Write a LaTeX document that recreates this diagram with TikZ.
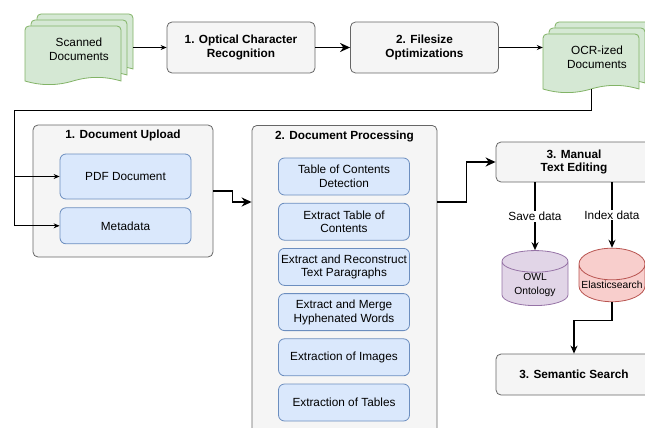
\documentclass[tikz,border=0pt]{standalone}
\usepackage{fontspec}
\setmainfont{Liberation Sans}
\usetikzlibrary{shapes.geometric, arrows.meta, positioning, calc}
\definecolor{boxgray}{HTML}{F5F5F5}
\definecolor{linegray}{HTML}{666666}
\definecolor{taskblue}{HTML}{DAE8FC}
\definecolor{taskline}{HTML}{6C8EBF}
\definecolor{docgreen}{HTML}{D5E8D4}
\definecolor{docline}{HTML}{82B366}
\definecolor{owlfill}{HTML}{E1D5E7}
\definecolor{owlline}{HTML}{9673A6}
\definecolor{esfill}{HTML}{F8CECC}
\definecolor{esline}{HTML}{B85450}

% stack of three document sheets: name, left, top, text
\newcommand{\docstack}[4]{%
  \foreach \d in {12,6,0}{%
    \filldraw[fill=docgreen, draw=docline, line width=0.8pt, shift={(#2+\d,#3+12-\d)}]
      (0,55) [rounded corners=4pt] -- (0,0) -- (96,0) [sharp corners] -- (96,55)
      .. controls (80,50.2) and (64,50.2) .. (48,55)
      .. controls (32,59.8) and (16,59.8) .. (0,55) -- cycle;
  }
  \coordinate (#1-foot) at (#2+48,#3+67);
  \node[inner sep=0pt, minimum width=108pt, minimum height=71pt] (#1) at (#2+54,#3+35.5) {#4};
}

\begin{document}
\begin{tikzpicture}[x=1pt, y=-1pt,
  every node/.style={font=\fontsize{11.8}{13.8}\selectfont, align=center},
  stepbox/.style={rectangle, rounded corners=5pt, draw=linegray, fill=boxgray, line width=0.8pt, minimum width=148pt, minimum height=51pt, font=\fontsize{11.8}{13.8}\selectfont\bfseries},
  groupbox/.style={rectangle, rounded corners=5pt, draw=linegray, fill=boxgray, line width=0.8pt},
  grouptitle/.style={inner sep=0pt, font=\fontsize{11.8}{13.8}\selectfont\bfseries},
  taskbox/.style={rectangle, rounded corners=6pt, draw=taskline, fill=taskblue, line width=0.8pt, minimum width=131pt, minimum height=37pt, inner sep=1pt},
  store/.style={cylinder, shape border rotate=90, aspect=0.5, line width=0.8pt, minimum width=66pt, minimum height=50pt, inner sep=1pt, font=\fontsize{10.3}{13.5}\selectfont},
  flow/.style={-{Stealth[length=6pt, width=5pt]}, line width=0.8pt},
  midflow/.style={-{Stealth[length=8pt, width=7pt]}, line width=1.2pt},
  bigflow/.style={-{Stealth[length=10pt, width=9pt]}, line width=1.8pt}
]
  \useasboundingbox (0,0) rectangle (645,428);
  \clip (0,0) rectangle (645,428);

  % Top row
  \docstack{scan}{25}{14}{Scanned\\Documents}
  \node[stepbox] (ocr) at (241,47.5) {1. Optical Character\\Recognition};
  \node[stepbox] (optim) at (424.5,47.5) {2. Filesize\\Optimizations};
  \docstack{ocrdocs}{543}{22}{OCR-ized\\Documents}

  % Upload
  \node[groupbox, minimum width=180pt, minimum height=132pt] (upload) at (123,191) {};
  \node[grouptitle] (uploadtitle) at ([yshift=-11pt]upload.north) {1. Document Upload};
  \node[taskbox, minimum height=45pt] (pdf) at (125.5,176.5) {PDF Document};
  \node[taskbox, minimum height=36pt, below=8pt of pdf] (meta) {Metadata};

  % Processing
  \node[groupbox, minimum width=185pt, minimum height=330pt, anchor=north] (proc) at (344.5,125) {};
  \node[grouptitle] (proctitle) at ([yshift=-11pt]proc.north) {2. Document Processing};
  \node[taskbox] (tocdetect) at (344,176.5) {Table of Contents\\Detection};
  \node[taskbox, below=7.4pt of tocdetect] (tocextract) {Extract Table of\\Contents};
  \node[taskbox, below=7.4pt of tocextract] (paragraphs) {Extract and Reconstruct\\Text Paragraphs};
  \node[taskbox, below=7.4pt of paragraphs] (hyphens) {Extract and Merge\\Hyphenated Words};
  \node[taskbox, below=7.4pt of hyphens] (images) {Extraction of Images};
  \node[taskbox, below=7.4pt of images] (tables) {Extraction of Tables};

  % Editing and search
  \node[stepbox, minimum width=156pt, minimum height=40pt] (manual) at (574,162) {3. Manual\\Text Editing};
  \node[store, fill=owlfill, draw=owlline] (owl) at (535,285) {OWL\\Ontology};
  \node[store, fill=esfill, draw=esline] (elastic) at (612,285) {Elasticsearch};
  \node[stepbox, minimum width=156pt, minimum height=41pt] (search) at (574,374.5) {3. Semantic Search};

  % Connectors
  \coordinate (bend) at (14,110);
  \coordinate (procport) at ([yshift=-77pt]proc.north west);
  \draw[flow] (scan.east |- ocr.west) -- (ocr.west);
  \draw[bigflow] (ocr) -- (optim);
  \draw[flow] (optim.east) -- (ocrdocs.west |- optim.east);
  \draw[flow] (ocrdocs-foot) |- (bend) |- (pdf.west);
  \draw[flow] (bend) |- (meta.west);
  \draw[bigflow] (upload.east) -- ++(19,0) |- (procport);
  \draw[bigflow] (procport -| proc.east) -- ++(29,0) |- (manual.west);
  \draw[midflow] (manual.south -| owl.north) -- node[fill=white, inner sep=1pt] (savelabel) {Save data} (owl.north);
  \draw[midflow] (manual.south -| elastic.north) -- node[fill=white, inner sep=1pt] (indexlabel) {Index data} (elastic.north);
  \draw[midflow] (elastic.south) -- ++(0,18) -| (search.north);
\end{tikzpicture}
\end{document}
